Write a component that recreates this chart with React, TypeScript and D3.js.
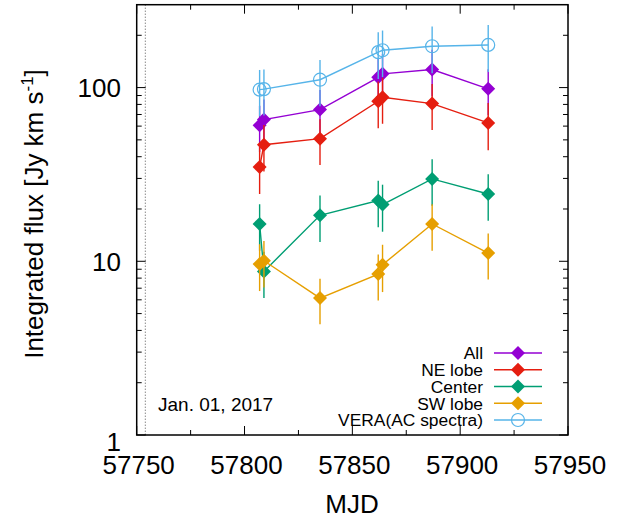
import React from "react";
import * as d3 from "d3";

const mjd = [57807, 57809, 57835, 57862, 57864, 57887, 57913];
const allFlux = [60.6, 65.4, 74.7, 114.6, 120, 127, 98.3];
const allErr = [18, 20, 22, 34, 36, 38, 29];
const neFlux = [34.9, 46.9, 50.8, 83.4, 87.9, 80.9, 62.6];
const neErr = [10.5, 14, 15, 25, 26, 24, 19];
const centerFlux = [16.4, 8.74, 18.4, 22.4, 21.2, 29.8, 24.4];
const centerErr = [4.9, 2.6, 5.5, 6.7, 6.4, 8.9, 7.3];
const swFlux = [9.64, 10.07, 6.14, 8.44, 9.55, 16.4, 11.15];
const swErr = [2.9, 3.0, 1.8, 2.5, 2.9, 4.9, 3.3];
const veraFlux = [97.3, 98, 111, 160, 164, 173, 176];
const veraErr = [29, 29, 33, 48, 49, 52, 53];

const xTicks = [57750, 57800, 57850, 57900, 57950];
const xMinorTicks = [57775, 57825, 57875, 57925];
const yTicks = [1, 10, 100];
const refDate = 57754;
const refLabel = "Jan. 01, 2017";

const series = [
  { name: "All", flux: allFlux, err: allErr, color: "#9400d3", marker: "diamond" },
  { name: "NE lobe", flux: neFlux, err: neErr, color: "#e51e10", marker: "diamond" },
  { name: "Center", flux: centerFlux, err: centerErr, color: "#009e73", marker: "diamond" },
  { name: "SW lobe", flux: swFlux, err: swErr, color: "#e69f00", marker: "diamond" },
  { name: "VERA(AC spectra)", flux: veraFlux, err: veraErr, color: "#56b4e9", marker: "circle" },
];

const W = 635;
const H = 517;
const L = 136.7, R = 568, T = 4.7, B = 435;
const FONT = "'Liberation Sans', Arial, Helvetica, sans-serif";

function Marker({ type, cx, cy, color }: { type: string; cx: number; cy: number; color: string }) {
  if (type === "circle") {
    return <circle cx={cx} cy={cy} r={6.5} fill="none" stroke={color} strokeWidth={1.2} />;
  }
  const s = 7;
  return (
    <path
      d={`M${cx},${cy - s}L${cx + s},${cy}L${cx},${cy + s}L${cx - s},${cy}Z`}
      fill={color}
    />
  );
}

export default function App() {
  const x = d3.scaleLinear().domain([57750, 57950]).range([L, R]);
  const y = d3.scaleLog().domain([1, 300]).range([B, T]);
  const line = d3
    .line<number>()
    .x((_, i) => x(mjd[i]))
    .y((d) => y(d));

  const yMinor: number[] = [];
  [1, 10, 100].forEach((dec) => {
    for (let k = 2; k <= 9; k++) {
      const v = dec * k;
      if (v < 300) yMinor.push(v);
    }
  });

  const legendRowY = (i: number) => 353 + i * 16.75;

  return (
    <svg
      width={W}
      height={H}
      style={{ position: "absolute", left: 0, top: 0 }}
      fontFamily={FONT}
    >
      <rect x={0} y={0} width={W} height={H} fill="#fff" />
      {/* reference date line */}
      <line
        x1={x(refDate)}
        x2={x(refDate)}
        y1={T}
        y2={B}
        stroke="#555"
        strokeWidth={1}
        strokeDasharray="1,2"
      />
      {/* ticks */}
      {xTicks.map((t) => (
        <g key={"xt" + t}>
          <line x1={x(t)} x2={x(t)} y1={B} y2={B - 9} stroke="#000" strokeWidth={1} />
          <line x1={x(t)} x2={x(t)} y1={T} y2={T + 9} stroke="#000" strokeWidth={1} />
          <text x={x(t) + 2} y={473.5} fontSize={26} textAnchor="middle" fill="#000">
            {t}
          </text>
        </g>
      ))}
      {xMinorTicks.map((t) => (
        <g key={"xm" + t}>
          <line x1={x(t)} x2={x(t)} y1={B} y2={B - 5} stroke="#000" strokeWidth={1} />
          <line x1={x(t)} x2={x(t)} y1={T} y2={T + 5} stroke="#000" strokeWidth={1} />
        </g>
      ))}
      {yTicks.map((t) => (
        <g key={"yt" + t}>
          <line x1={L} x2={L + 9} y1={y(t)} y2={y(t)} stroke="#000" strokeWidth={1} />
          <line x1={R} x2={R - 9} y1={y(t)} y2={y(t)} stroke="#000" strokeWidth={1} />
          <text
            x={121}
            y={t === 1 ? 451 : y(t) + 9.5}
            fontSize={26}
            textAnchor="end"
            fill="#000"
          >
            {t}
          </text>
        </g>
      ))}
      {yMinor.map((t) => (
        <g key={"ym" + t}>
          <line x1={L} x2={L + 5} y1={y(t)} y2={y(t)} stroke="#000" strokeWidth={1} />
          <line x1={R} x2={R - 5} y1={y(t)} y2={y(t)} stroke="#000" strokeWidth={1} />
        </g>
      ))}
      {/* data */}
      {series.map((s) => (
        <g key={s.name}>
          <path d={line(s.flux) || ""} fill="none" stroke={s.color} strokeWidth={1.4} />
          {s.flux.map((v, i) => (
            <line
              key={"e" + i}
              x1={x(mjd[i])}
              x2={x(mjd[i])}
              y1={y(v + s.err[i])}
              y2={y(v - s.err[i])}
              stroke={s.color}
              strokeWidth={1.4}
            />
          ))}
          {s.flux.map((v, i) => (
            <Marker key={"m" + i} type={s.marker} cx={x(mjd[i])} cy={y(v)} color={s.color} />
          ))}
        </g>
      ))}
      {/* legend */}
      {series.map((s, i) => (
        <g key={"lg" + s.name}>
          <text x={483} y={legendRowY(i) + 6.3} fontSize={17.4} textAnchor="end" fill="#000">
            {s.name}
          </text>
          <line
            x1={494}
            x2={542}
            y1={legendRowY(i)}
            y2={legendRowY(i)}
            stroke={s.color}
            strokeWidth={1.4}
          />
          <Marker type={s.marker} cx={518} cy={legendRowY(i)} color={s.color} />
        </g>
      ))}
      <text x={158} y={411} fontSize={19} fill="#000">
        {refLabel}
      </text>
      {/* frame */}
      <rect x={L} y={T} width={R - L} height={B - T} fill="none" stroke="#000" strokeWidth={1.5} />
      {/* axis titles */}
      <text x={352} y={513} fontSize={26} textAnchor="middle" fill="#000">
        MJD
      </text>
      <text
        transform="translate(43,214) rotate(-90)"
        fontSize={26}
        textAnchor="middle"
        fill="#000"
      >
        Integrated flux [Jy km s
        <tspan dy={-10} fontSize={17}>
          -1
        </tspan>
        <tspan dy={10}>]</tspan>
      </text>
    </svg>
  );
}
